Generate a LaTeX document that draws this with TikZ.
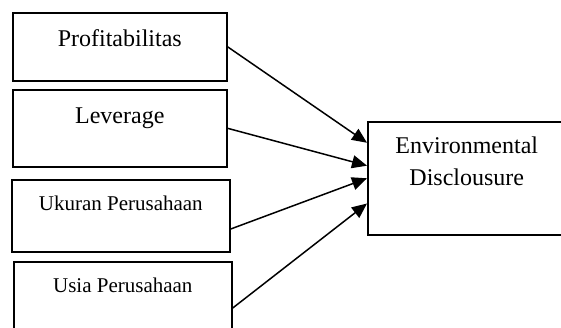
\documentclass[tikz,border=0pt]{standalone}
\usepackage{fontspec}
\setmainfont{Liberation Serif}
\usetikzlibrary{arrows.meta, calc, positioning}
\tikzset{
    varBox/.style={rectangle, draw, line width=1.6pt, inner sep=0pt, anchor=north west, align=center},
    bigText/.style={font=\fontsize{24}{32}\selectfont},
    smallText/.style={font=\fontsize{21}{28}\selectfont},
    linkArrow/.style={-{Triangle[length=15pt, width=13pt]}, line width=1.5pt},
}

\begin{document}
\begin{tikzpicture}[x=1pt, y=-1pt]
    \useasboundingbox (0, 0) rectangle (561, 328);

    % independent variables
    \node[varBox, bigText, minimum width=214pt, minimum height=68pt, text height=34pt, text depth=34pt] (prof) at (12, 12) {Profitabilitas};
    \node[varBox, bigText, minimum width=214pt, minimum height=77pt, text height=34pt, text depth=43pt] (lev) at (12, 89) {Leverage};
    \node[varBox, smallText, minimum width=218pt, minimum height=72pt, text height=31pt, text depth=41pt] (ukuran) at (11, 179) {Ukuran Perusahaan};
    \node[varBox, smallText, minimum width=218pt, minimum height=72pt, text height=31pt, text depth=41pt] (usia) at (13, 261) {Usia Perusahaan};

    % dependent variable
    \node[varBox, bigText, minimum width=198pt, minimum height=113pt, text height=64pt, text depth=49pt] (env) at (367, 121) {Environmental\\Disclousure};

    \draw[linkArrow] (prof.east) -- ($(env.north west)!0.19!(env.south west)$);
    \draw[linkArrow] (lev.east) -- ($(env.north west)!0.39!(env.south west)$);
    \draw[linkArrow] ($(ukuran.north east)!0.68!(ukuran.south east)$) -- ($(env.north west)!0.50!(env.south west)$);
    \draw[linkArrow] ($(usia.north east)!0.64!(usia.south east)$) -- ($(env.north west)!0.72!(env.south west)$);

\end{tikzpicture}
\end{document}
